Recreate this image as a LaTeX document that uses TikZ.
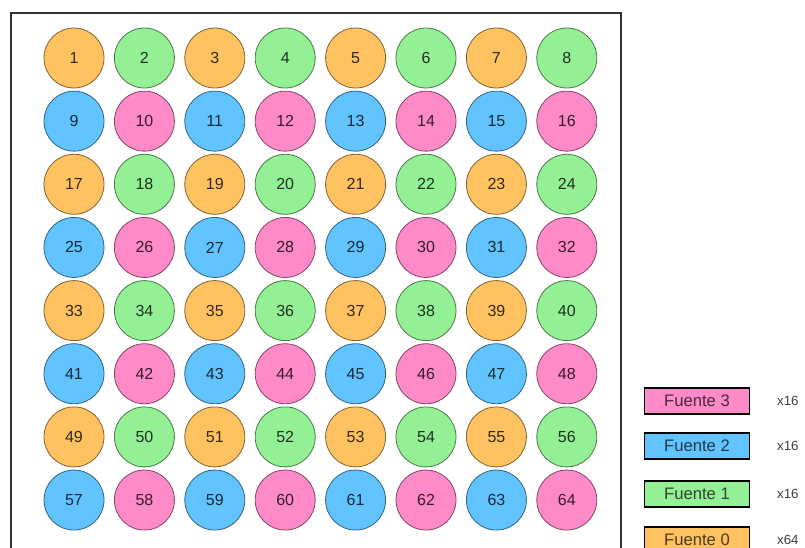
\documentclass[tikz,border=0pt]{standalone}
\usepackage{fontspec}
\setmainfont{Liberation Sans}
\usepackage{tikz}
\usetikzlibrary{positioning}
\definecolor{fuentecero}{RGB}{255,194,96}
\definecolor{fuenteuno}{RGB}{148,240,148}
\definecolor{fuentedos}{RGB}{98,196,255}
\definecolor{fuentetres}{RGB}{255,138,200}

\tikzset{
  pozo/.style={circle, draw=#1!50!black, fill=#1, text=#1!20!black,
    minimum size=45pt, inner sep=0pt, line width=0.6pt,
    font=\fontsize{12}{14}\selectfont},
  leyenda/.style={rectangle, draw=black, fill=#1, text=#1!30!black,
    minimum width=78.75pt, minimum height=19.5pt, inner sep=0pt, line width=1pt,
    font=\fontsize{12.5}{14}\selectfont},
  cuenta/.style={font=\fontsize{10}{12}\selectfont, text=black!75, inner sep=0pt}
}

\begin{document}
\begin{tikzpicture}[x=0.75pt,y=-0.75pt]
  \useasboundingbox (0,0) rectangle (805,548);
  \clip (0,0) rectangle (805,548);

  % Marco
  \draw[line width=1.2pt, black!80] (11,560) -- (11,13) -- (621,13) -- (621,560);

  % Pocillos 8x8
  \foreach \fila in {0,...,7}
    \foreach \col in {0,...,7} {
      \pgfmathtruncatemacro{\num}{8*\fila+\col+1}
      \pgfmathtruncatemacro{\tipo}{2*mod(\fila,2)+mod(\col,2)}
      \edef\colfuente{\ifcase\tipo fuentecero\or fuenteuno\or fuentedos\or fuentetres\fi}
      \node[pozo=\colfuente] (p\num) at (74+70.4*\col, 58+63.15*\fila) {\num};
    }

  % Leyenda
  \node[leyenda=fuentetres] (f3) at (697,401) {Fuente 3};
  \node[leyenda=fuentedos]  (f2) at (697,446) {Fuente 2};
  \node[leyenda=fuenteuno]  (f1) at (697,494) {Fuente 1};
  \node[leyenda=fuentecero] (f0) at (697,540) {Fuente 0};
  \node[cuenta, right=20pt of f3] (n3) {x16};
  \node[cuenta, right=20pt of f2] (n2) {x16};
  \node[cuenta, right=20pt of f1] (n1) {x16};
  \node[cuenta, right=20pt of f0] (n0) {x64};
\end{tikzpicture}
\end{document}
